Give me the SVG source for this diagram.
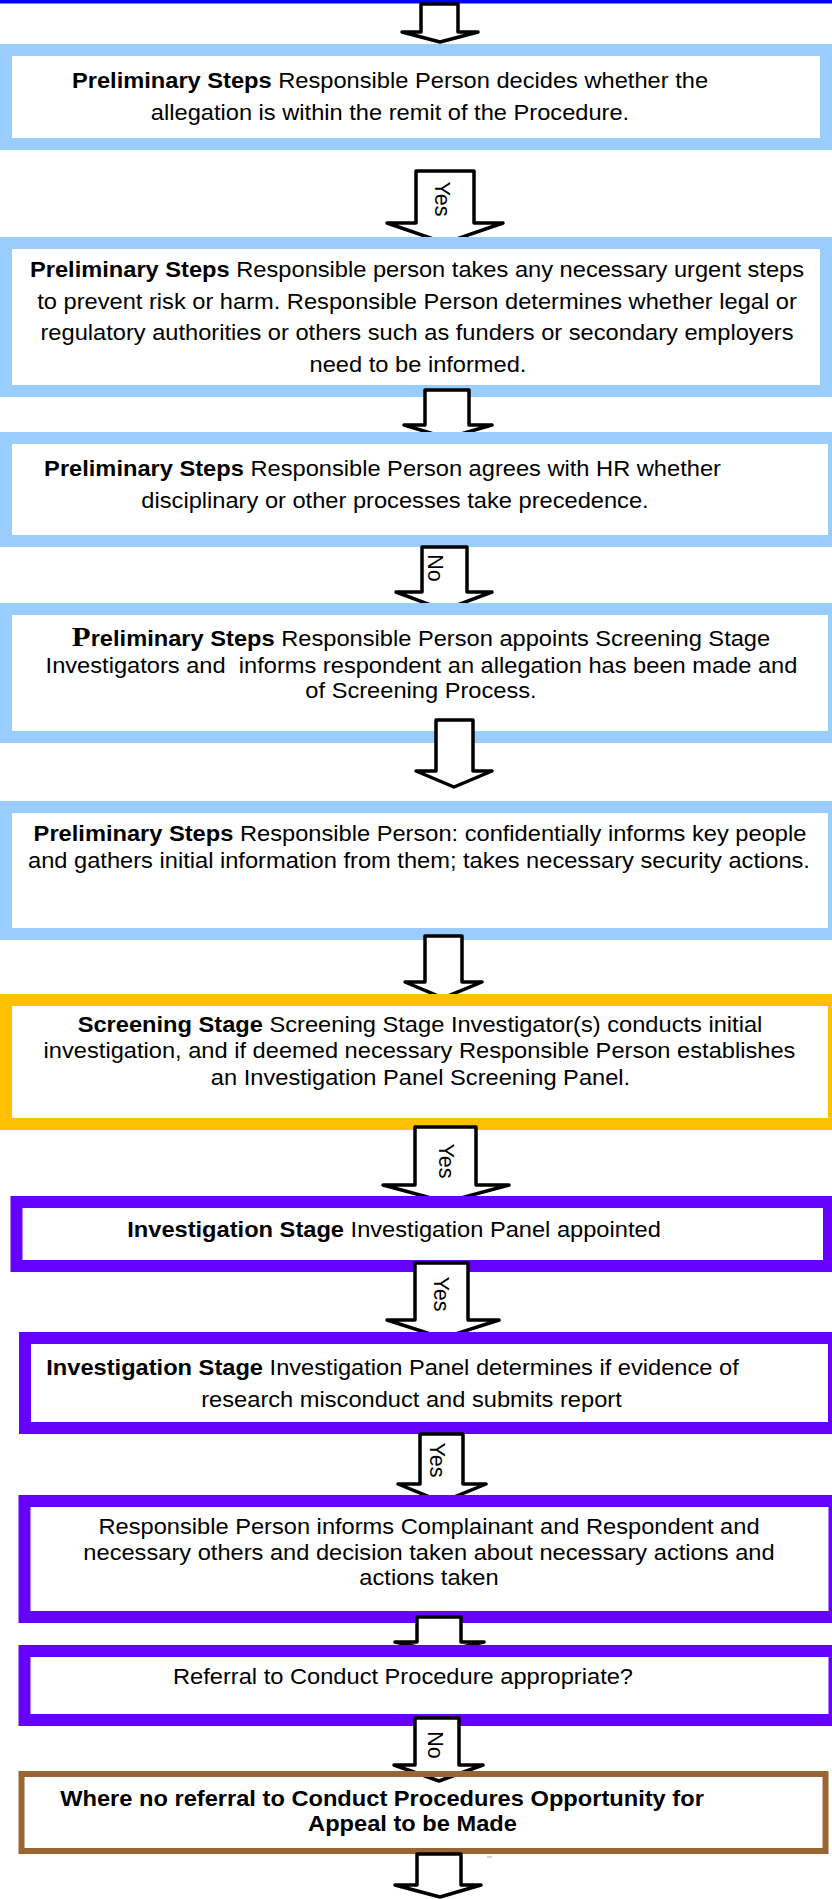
<svg xmlns="http://www.w3.org/2000/svg" width="832" height="1899" viewBox="0 0 832 1899">
<style>
.t{font-family:"Liberation Sans",Arial,sans-serif;font-size:21.5px;fill:#000}
.b{font-weight:bold}
.lab{font-family:"Liberation Sans",Arial,sans-serif;font-size:21.5px;fill:#000}
.arrow{fill:#fff;stroke:#000;stroke-width:3.5;stroke-linejoin:round}
.lb{fill:#fff;stroke:#99CCFF;stroke-width:12}
.or{fill:#fff;stroke:#FFC000;stroke-width:12}
.pu{fill:#fff;stroke:#6600FF;stroke-width:12}
.br{fill:#fff;stroke:#996633;stroke-width:6}
</style>
<defs>
<clipPath id="c2"><rect x="0" y="0" width="832" height="237"/></clipPath>
<clipPath id="c3"><rect x="0" y="0" width="832" height="432"/></clipPath>
<clipPath id="c4"><rect x="0" y="0" width="832" height="603"/></clipPath>
<clipPath id="c6"><rect x="0" y="0" width="832" height="994"/></clipPath>
<clipPath id="c7"><rect x="0" y="0" width="832" height="1196"/></clipPath>
<clipPath id="c8"><rect x="0" y="0" width="832" height="1332"/></clipPath>
<clipPath id="c9"><rect x="0" y="0" width="832" height="1495"/></clipPath>
<clipPath id="c10"><rect x="0" y="0" width="832" height="1645"/></clipPath>
<clipPath id="c11"><rect x="0" y="0" width="832" height="1771"/><rect x="0" y="1777" width="832" height="122"/></clipPath>
</defs>
<rect x="0" y="0" width="832" height="1899" fill="#fff"/>

<g id="top-box"><rect x="-10" y="-20" width="852" height="23.5" fill="#0000FF"/></g>

<g id="step1">
<rect class="lb" x="6" y="50" width="820" height="94"/>
<text class="t" text-anchor="middle" transform="translate(390 88) scale(1.1 1)"><tspan class="b">Preliminary Steps</tspan> Responsible Person decides whether the</text>
<text class="t" text-anchor="middle" transform="translate(390 120) scale(1.1 1)">allegation is within the remit of the Procedure.</text>
</g>

<g id="step2">
<rect class="lb" x="6" y="243" width="820" height="148"/>
<text class="t" text-anchor="middle" transform="translate(417 277) scale(1.1 1)"><tspan class="b">Preliminary Steps</tspan> Responsible person takes any necessary urgent steps</text>
<text class="t" text-anchor="middle" transform="translate(417 309) scale(1.1 1)">to prevent risk or harm. Responsible Person determines whether legal or</text>
<text class="t" text-anchor="middle" transform="translate(417 340) scale(1.1 1)">regulatory authorities or others such as funders or secondary employers</text>
<text class="t" text-anchor="middle" transform="translate(418 372) scale(1.1 1)">need to be informed.</text>
</g>

<g id="step3">
<rect class="lb" x="6" y="438" width="828" height="103"/>
<text class="t" text-anchor="middle" transform="translate(382.5 476) scale(1.1 1)"><tspan class="b">Preliminary Steps</tspan> Responsible Person agrees with HR whether</text>
<text class="t" text-anchor="middle" transform="translate(395 508) scale(1.1 1)">disciplinary or other processes take precedence.</text>
</g>

<g id="step4">
<rect class="lb" x="6" y="609" width="828" height="128"/>
<text class="t" text-anchor="middle" transform="translate(421 646) scale(1.1 1)"><tspan class="b" style="font-family:'Liberation Serif',serif;font-size:28px">P</tspan><tspan class="b">reliminary Steps</tspan> Responsible Person appoints Screening Stage</text>
<text class="t" text-anchor="middle" xml:space="preserve" transform="translate(421.5 673) scale(1.1 1)">Investigators and  informs respondent an allegation has been made and</text>
<text class="t" text-anchor="middle" transform="translate(421 698) scale(1.1 1)">of Screening Process.</text>
</g>

<g id="step5">
<rect class="lb" x="6" y="807" width="828" height="127"/>
<text class="t" text-anchor="middle" transform="translate(420 841) scale(1.1 1)"><tspan class="b">Preliminary Steps</tspan> Responsible Person: confidentially informs key people</text>
<text class="t" text-anchor="middle" transform="translate(419 868) scale(1.1 1)">and gathers initial information from them; takes necessary security actions.</text>
</g>

<g id="screening">
<rect class="or" x="6" y="1000" width="828" height="124"/>
<text class="t" text-anchor="middle" transform="translate(420 1032) scale(1.1 1)"><tspan class="b">Screening Stage</tspan> Screening Stage Investigator(s) conducts initial</text>
<text class="t" text-anchor="middle" transform="translate(419.5 1058) scale(1.1 1)">investigation, and if deemed necessary Responsible Person establishes</text>
<text class="t" text-anchor="middle" transform="translate(420.5 1085) scale(1.1 1)">an Investigation Panel Screening Panel.</text>
</g>

<g id="investigation1">
<rect class="pu" x="16.5" y="1202" width="812.5" height="64"/>
<text class="t" text-anchor="middle" transform="translate(394 1237) scale(1.1 1)"><tspan class="b">Investigation Stage</tspan> Investigation Panel appointed</text>
</g>

<g id="investigation2">
<rect class="pu" x="25" y="1338" width="809" height="90"/>
<text class="t" text-anchor="middle" transform="translate(392.5 1375) scale(1.1 1)"><tspan class="b">Investigation Stage</tspan> Investigation Panel determines if evidence of</text>
<text class="t" text-anchor="middle" transform="translate(411.5 1407) scale(1.1 1)">research misconduct and submits report</text>
</g>

<g id="inform">
<rect class="pu" x="24.5" y="1501" width="810" height="116"/>
<text class="t" text-anchor="middle" transform="translate(429 1534) scale(1.1 1)">Responsible Person informs Complainant and Respondent and</text>
<text class="t" text-anchor="middle" transform="translate(429 1560) scale(1.1 1)">necessary others and decision taken about necessary actions and</text>
<text class="t" text-anchor="middle" transform="translate(429 1585) scale(1.1 1)">actions taken</text>
</g>

<g id="referral">
<rect class="pu" x="24.5" y="1651" width="810" height="69"/>
<text class="t" text-anchor="middle" transform="translate(403 1684) scale(1.1 1)">Referral to Conduct Procedure appropriate?</text>
</g>

<g id="appeal">
<rect class="br" x="21.5" y="1774" width="804" height="77"/>
<text class="t b" text-anchor="middle" transform="translate(382 1806) scale(1.1 1)">Where no referral to Conduct Procedures Opportunity for</text>
<text class="t b" text-anchor="middle" transform="translate(412.5 1831) scale(1.1 1)">Appeal to be Made</text>
<line x1="487" y1="1857" x2="492" y2="1857" stroke="#aaa" stroke-width="1"/>
</g>

<g id="connectors">
<path class="arrow" d="M421 4 L421 32 L402 32 L440 42 L478 32 L458 32 L458 4 Z"/>
<path class="arrow" clip-path="url(#c2)" d="M416 171 L416 223 L387 223 L445 243 L503 223 L474 223 L474 171 Z"/>
<text class="lab" text-anchor="middle" y="7.5" transform="translate(442 199) rotate(90)">Yes</text>
<path class="arrow" clip-path="url(#c3)" d="M425 390 L425 425 L404 425 L447 438 L492 425 L469 425 L469 390 Z"/>
<path class="arrow" clip-path="url(#c4)" d="M422 547 L422 592 L396 592 L444 610 L492 592 L467 592 L467 547 Z"/>
<text class="lab" text-anchor="middle" y="7.5" transform="translate(435 568) rotate(90)">No</text>
<path class="arrow" d="M436 720 L436 771 L416 771 L454 787 L492 771 L473 771 L473 720 Z"/>
<path class="arrow" clip-path="url(#c6)" d="M425 936 L425 982 L405 982 L443 998 L482 982 L462 982 L462 936 Z"/>
<path class="arrow" clip-path="url(#c7)" d="M415 1127 L415 1185 L383 1185 L446 1202 L509 1185 L476 1185 L476 1127 Z"/>
<text class="lab" text-anchor="middle" y="7.5" transform="translate(446 1161) rotate(90)">Yes</text>
<path class="arrow" clip-path="url(#c8)" d="M415 1263 L415 1320 L387 1320 L443 1338 L499 1320 L468 1320 L468 1263 Z"/>
<text class="lab" text-anchor="middle" y="7.5" transform="translate(441 1294) rotate(90)">Yes</text>
<path class="arrow" clip-path="url(#c9)" d="M420 1434 L420 1484 L398 1484 L442 1502 L486 1484 L463 1484 L463 1434 Z"/>
<text class="lab" text-anchor="middle" y="7.5" transform="translate(437 1460) rotate(90)">Yes</text>
<path class="arrow" clip-path="url(#c10)" d="M417 1617 L417 1642 L395 1642 L440 1652 L484 1642 L461 1642 L461 1617 Z"/>
<path class="arrow" clip-path="url(#c11)" d="M415 1718 L415 1765 L394 1765 L439 1781 L483 1765 L459 1765 L459 1718 Z"/>
<text class="lab" text-anchor="middle" y="7.5" transform="translate(435 1745) rotate(90)">No</text>
<path class="arrow" d="M417 1854 L417 1885 L395 1885 L440 1897 L481 1885 L461 1885 L461 1854 Z"/>
</g>
</svg>
